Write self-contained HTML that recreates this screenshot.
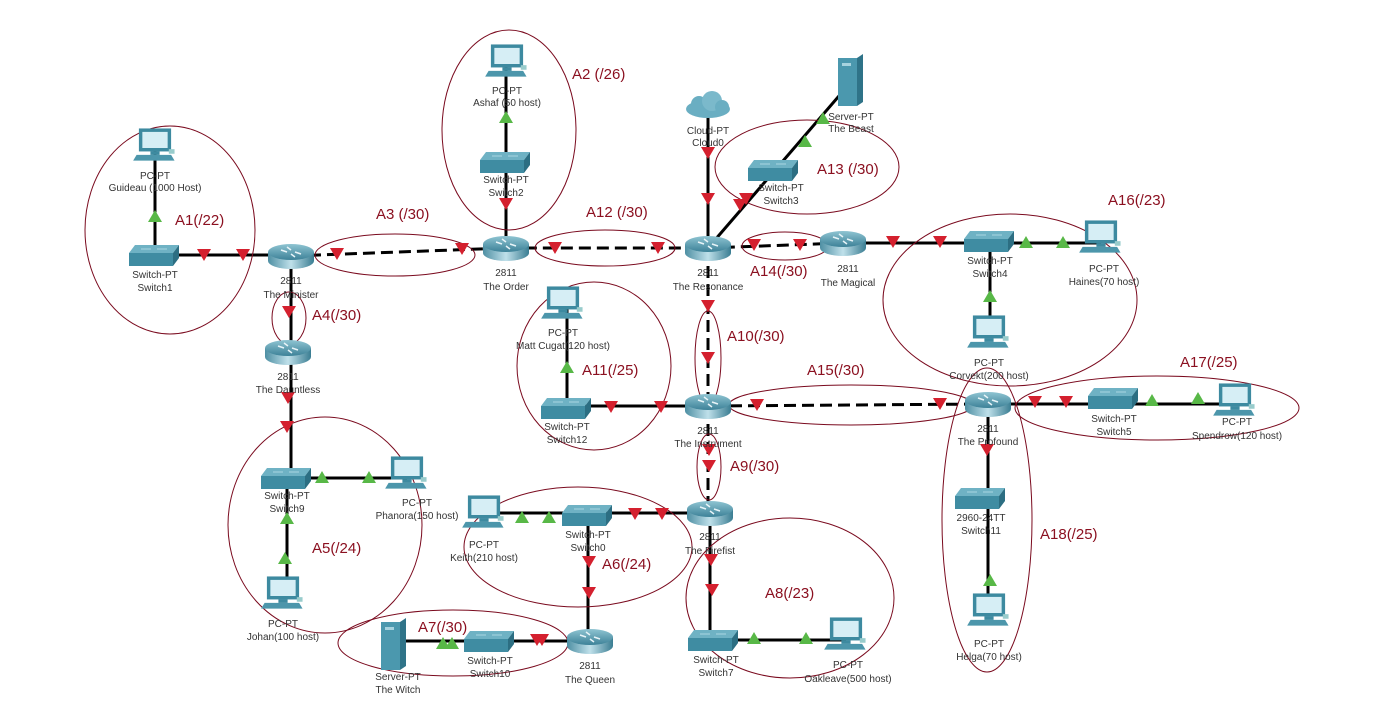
<!DOCTYPE html>
<html><head><meta charset="utf-8"><style>
html,body{margin:0;padding:0;background:#fff;}
svg{display:block;}
.l{font-family:"Liberation Sans",Arial,sans-serif;font-size:10px;fill:#333;text-anchor:middle;}
.a{font-family:"Liberation Sans",Arial,sans-serif;font-size:15px;fill:#8b1020;}
.e{fill:none;stroke:#7a0a1e;stroke-width:1;}
.k{stroke:#000;stroke-width:3;fill:none;}
.d{stroke:#000;stroke-width:3;fill:none;stroke-dasharray:12,6;}
</style></head><body>
<svg width="1375" height="726" viewBox="0 0 1375 726" xmlns="http://www.w3.org/2000/svg">
<defs>
<linearGradient id="rg" x1="0" x2="0" y1="0" y2="1"><stop offset="0" stop-color="#8fc4d2"/><stop offset="1" stop-color="#3d8298"/></linearGradient>
<linearGradient id="rb" x1="0" x2="1" y1="0" y2="0"><stop offset="0" stop-color="#4e8fa3"/><stop offset="0.5" stop-color="#bfe0ea"/><stop offset="1" stop-color="#3a7d92"/></linearGradient>
<g id="rt"><path d="M-23,-4 v9 a23,8 0 0 0 46,0 v-9z" fill="url(#rb)"/><ellipse cx="0" cy="-4" rx="23" ry="8" fill="url(#rg)"/><path d="M-10,-6 l6,2 M10,-2 l-6,-2 M-4,-9 l4,3 M4,1 l-4,-3" stroke="#e8f4f8" stroke-width="1.5"/></g>
<g id="sw"><path d="M-20,-10 h44 l-6,8 h-44z" fill="#6fb2c4"/><path d="M-26,-2 h44 v13 h-44z" fill="#3f8ca2"/><path d="M18,-2 l6,-8 v13 l-6,8z" fill="#2c6e82"/><path d="M-14,-6 h10 M2,-6 h10" stroke="#a9d6e2" stroke-width="1"/></g>
<g id="pc" transform="scale(1.15)"><rect x="-14" y="-17" width="28" height="20" fill="#3d8aa0"/><rect x="-11" y="-14" width="22" height="14" fill="#d6eef5"/><rect x="-4" y="3" width="8" height="3" fill="#3d8aa0"/><path d="M-16,6 h30 l3,5 h-36z" fill="#4c96ab"/><rect x="12" y="1" width="5" height="4" fill="#9cc"/></g>
<g id="sv"><path d="M-12,-24 h19 l6,-4 v48 l-6,4 h-19z" fill="#2f7388"/><rect x="-12" y="-24" width="19" height="48" fill="#4b98ae"/><rect x="-8" y="-19" width="9" height="3" fill="#a7d3df"/></g>
<path id="rd" d="M-7,-6 h14 l-7,12z" fill="#d4202e"/>
<path id="gn" d="M-7,6 h14 l-7,-12z" fill="#58b847"/>
</defs>

<path class="k" d="M155,150 V255 H291"/>
<path class="d" d="M291,256 L506,248 L708,248 L843,243"/>
<path class="k" d="M843,243 H1101"/>
<path class="k" d="M990,241 V335"/>
<path class="k" d="M506,64 V248"/>
<path class="k" d="M708,110 V248"/>
<path class="k" d="M708,248 L851,82"/>
<path class="k" d="M291,256 V352 V478 H407"/>
<path class="k" d="M287,478 V596"/>
<path class="d" d="M708,248 V406 L988,404"/>
<path class="k" d="M708,406 H567 V306"/>
<path class="k" d="M988,404 H1235"/>
<path class="k" d="M988,404 V613"/>
<path class="d" d="M708,406 V513"/>
<path class="k" d="M710,513 H484"/>
<path class="k" d="M588,515 V641 H393"/>
<path class="k" d="M710,513 V640 H846"/>

<ellipse class="e" cx="170" cy="230" rx="85" ry="104"/>
<ellipse class="e" cx="509" cy="130" rx="67" ry="100"/>
<ellipse class="e" cx="395" cy="255" rx="80" ry="21"/>
<ellipse class="e" cx="289" cy="318" rx="17" ry="26"/>
<ellipse class="e" cx="605" cy="248" rx="70" ry="18"/>
<ellipse class="e" cx="807" cy="167" rx="92" ry="47"/>
<ellipse class="e" cx="785" cy="246" rx="43" ry="14"/>
<ellipse class="e" cx="1010" cy="300" rx="127" ry="86"/>
<ellipse class="e" cx="708" cy="358" rx="13" ry="47"/>
<ellipse class="e" cx="594" cy="366" rx="77" ry="84"/>
<ellipse class="e" cx="851" cy="405" rx="122" ry="20"/>
<ellipse class="e" cx="1157" cy="408" rx="142" ry="32"/>
<ellipse class="e" cx="709" cy="467" rx="12" ry="33"/>
<ellipse class="e" cx="325" cy="525" rx="97" ry="108"/>
<ellipse class="e" cx="578" cy="547" rx="114" ry="60"/>
<ellipse class="e" cx="790" cy="598" rx="104" ry="80"/>
<ellipse class="e" cx="453" cy="643" rx="115" ry="33"/>
<ellipse class="e" cx="987" cy="520" rx="45" ry="152"/>

<g>
<use href="#rd" x="204" y="255"/><use href="#rd" x="243" y="255"/><use href="#rd" x="337" y="254"/><use href="#rd" x="462" y="249"/>
<use href="#rd" x="506" y="204"/><use href="#rd" x="555" y="248"/><use href="#rd" x="658" y="248"/><use href="#rd" x="708" y="153"/><use href="#rd" x="708" y="199"/>
<use href="#rd" x="740" y="205"/><use href="#rd" x="746" y="199"/><use href="#rd" x="754" y="245"/><use href="#rd" x="800" y="245"/><use href="#rd" x="893" y="242"/><use href="#rd" x="940" y="242"/>
<use href="#rd" x="289" y="312"/><use href="#rd" x="288" y="398"/><use href="#rd" x="287" y="427"/><use href="#rd" x="611" y="407"/><use href="#rd" x="661" y="407"/>
<use href="#rd" x="708" y="306"/><use href="#rd" x="708" y="358"/><use href="#rd" x="757" y="405"/><use href="#rd" x="940" y="404"/><use href="#rd" x="1035" y="402"/><use href="#rd" x="1066" y="402"/>
<use href="#rd" x="709" y="450"/><use href="#rd" x="709" y="466"/><use href="#rd" x="635" y="514"/><use href="#rd" x="662" y="514"/><use href="#rd" x="711" y="560"/><use href="#rd" x="712" y="590"/>
<use href="#rd" x="589" y="562"/><use href="#rd" x="589" y="593"/><use href="#rd" x="537" y="640"/><use href="#rd" x="542" y="640"/><use href="#rd" x="987" y="450"/>
<use href="#gn" x="155" y="216"/><use href="#gn" x="506" y="117"/><use href="#gn" x="805" y="141"/><use href="#gn" x="823" y="118"/><use href="#gn" x="1026" y="242"/><use href="#gn" x="1063" y="242"/><use href="#gn" x="990" y="296"/>
<use href="#gn" x="567" y="367"/><use href="#gn" x="1152" y="400"/><use href="#gn" x="1198" y="398"/><use href="#gn" x="322" y="477"/><use href="#gn" x="369" y="477"/><use href="#gn" x="287" y="518"/><use href="#gn" x="285" y="558"/>
<use href="#gn" x="522" y="517"/><use href="#gn" x="549" y="517"/><use href="#gn" x="443" y="643"/><use href="#gn" x="452" y="643"/><use href="#gn" x="754" y="638"/><use href="#gn" x="806" y="638"/><use href="#gn" x="990" y="580"/>
</g>

<use href="#rt" x="291" y="256"/><use href="#rt" x="506" y="248"/><use href="#rt" x="708" y="248"/><use href="#rt" x="843" y="243"/><use href="#rt" x="288" y="352"/>
<use href="#rt" x="708" y="406"/><use href="#rt" x="988" y="404"/><use href="#rt" x="710" y="513"/><use href="#rt" x="590" y="641"/>
<use href="#sw" x="155" y="255"/><use href="#sw" x="506" y="162"/><use href="#sw" x="774" y="170"/><use href="#sw" x="990" y="241"/><use href="#sw" x="567" y="408"/>
<use href="#sw" x="287" y="478"/><use href="#sw" x="588" y="515"/><use href="#sw" x="1114" y="398"/><use href="#sw" x="981" y="498"/><use href="#sw" x="490" y="641"/><use href="#sw" x="714" y="640"/>
<use href="#pc" x="155" y="148"/><use href="#pc" x="507" y="64"/><use href="#pc" x="1101" y="240"/><use href="#pc" x="989" y="335"/><use href="#pc" x="563" y="306"/>
<use href="#pc" x="407" y="476"/><use href="#pc" x="283" y="596"/><use href="#pc" x="484" y="515"/><use href="#pc" x="1235" y="403"/><use href="#pc" x="846" y="637"/><use href="#pc" x="989" y="613"/>
<use href="#sv" x="850" y="82"/><use href="#sv" x="393" y="646"/>
<g transform="translate(708,107)"><ellipse cx="0" cy="2" rx="22" ry="9" fill="#6aaec2"/><circle cx="-9" cy="-3" r="8" fill="#6aaec2"/><circle cx="4" cy="-6" r="10" fill="#7bb9cb"/><circle cx="14" cy="0" r="7" fill="#6aaec2"/></g>

<g class="l">
<text x="155" y="179">PC-PT</text><text x="155" y="191">Guideau (1000 Host)</text>
<text x="155" y="278">Switch-PT</text><text x="155" y="291">Switch1</text>
<text x="291" y="284">2811</text><text x="291" y="298">The Minister</text>
<text x="288" y="380">2811</text><text x="288" y="393">The Dauntless</text>
<text x="507" y="94">PC-PT</text><text x="507" y="106">Ashaf (50 host)</text>
<text x="506" y="183">Switch-PT</text><text x="506" y="196">Switch2</text>
<text x="506" y="276">2811</text><text x="506" y="290">The Order</text>
<text x="708" y="134">Cloud-PT</text><text x="708" y="146">Cloud0</text>
<text x="851" y="120">Server-PT</text><text x="851" y="132">The Beast</text>
<text x="781" y="191">Switch-PT</text><text x="781" y="204">Switch3</text>
<text x="708" y="276">2811</text><text x="708" y="290">The Resonance</text>
<text x="848" y="272">2811</text><text x="848" y="286">The Magical</text>
<text x="990" y="264">Switch-PT</text><text x="990" y="277">Switch4</text>
<text x="1104" y="272">PC-PT</text><text x="1104" y="285">Haines(70 host)</text>
<text x="989" y="366">PC-PT</text><text x="989" y="379">Corvekt(200 host)</text>
<text x="563" y="336">PC-PT</text><text x="563" y="349">Matt Cugat(120 host)</text>
<text x="567" y="430">Switch-PT</text><text x="567" y="443">Switch12</text>
<text x="708" y="434">2811</text><text x="708" y="447">The Instrument</text>
<text x="988" y="432">2811</text><text x="988" y="445">The Profound</text>
<text x="1114" y="422">Switch-PT</text><text x="1114" y="435">Switch5</text>
<text x="1237" y="425">PC-PT</text><text x="1237" y="439">Spendrow(120 host)</text>
<text x="287" y="499">Switch-PT</text><text x="287" y="512">Switch9</text>
<text x="417" y="506">PC-PT</text><text x="417" y="519">Phanora(150 host)</text>
<text x="283" y="627">PC-PT</text><text x="283" y="640">Johan(100 host)</text>
<text x="484" y="548">PC-PT</text><text x="484" y="561">Keith(210 host)</text>
<text x="588" y="538">Switch-PT</text><text x="588" y="551">Switch0</text>
<text x="710" y="540">2811</text><text x="710" y="554">The Firefist</text>
<text x="981" y="521">2960-24TT</text><text x="981" y="534">Switch11</text>
<text x="989" y="647">PC-PT</text><text x="989" y="660">Helga(70 host)</text>
<text x="398" y="680">Server-PT</text><text x="398" y="693">The Witch</text>
<text x="490" y="664">Switch-PT</text><text x="490" y="677">Switch10</text>
<text x="590" y="669">2811</text><text x="590" y="683">The Queen</text>
<text x="716" y="663">Switch-PT</text><text x="716" y="676">Switch7</text>
<text x="848" y="668">PC-PT</text><text x="848" y="682">Oakleave(500 host)</text>
</g>

<g class="a">
<text x="175" y="225">A1(/22)</text>
<text x="572" y="79">A2 (/26)</text>
<text x="376" y="219">A3 (/30)</text>
<text x="312" y="320">A4(/30)</text>
<text x="586" y="217">A12 (/30)</text>
<text x="817" y="174">A13 (/30)</text>
<text x="750" y="276">A14(/30)</text>
<text x="1108" y="205">A16(/23)</text>
<text x="727" y="341">A10(/30)</text>
<text x="582" y="375">A11(/25)</text>
<text x="807" y="375">A15(/30)</text>
<text x="1180" y="367">A17(/25)</text>
<text x="730" y="471">A9(/30)</text>
<text x="312" y="553">A5(/24)</text>
<text x="602" y="569">A6(/24)</text>
<text x="765" y="598">A8(/23)</text>
<text x="418" y="632">A7(/30)</text>
<text x="1040" y="539">A18(/25)</text>
</g>
</svg>
</body></html>
